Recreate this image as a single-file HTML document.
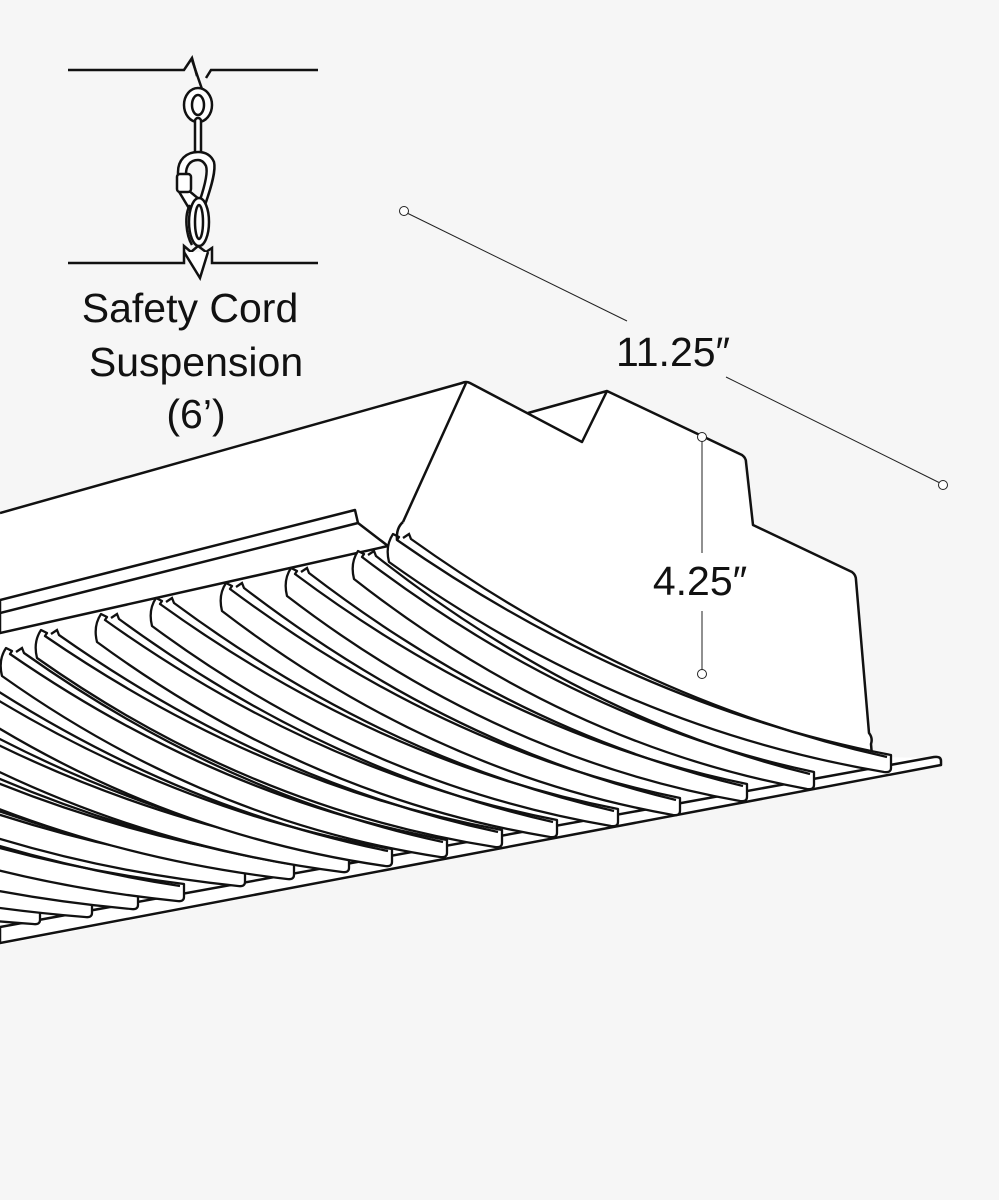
<!DOCTYPE html>
<html><head><meta charset="utf-8">
<style>
html,body{margin:0;padding:0;background:#f6f6f6;}
svg{display:block;}
text{font-family:"Liberation Sans",sans-serif;fill:#111;}
</style></head>
<body>
<svg id="s" width="999" height="1200" viewBox="0 0 999 1200" xmlns="http://www.w3.org/2000/svg">
<rect width="999" height="1200" fill="#f6f6f6"/>
<!-- chain detail -->
<g stroke="#111" stroke-width="2.5" fill="none">
<path d="M68 70 H184 L192 58 L197 76 M206 78 L211 70 H318"/>
<path d="M68 263 H184 L184 246 L191 252 L198 246 L206 252 L212 248 L212 263 H318"/>
<path d="M184 252 L200 278 L208 252" fill="#fff"/>
<path d="M192 60 L204 95" />
<ellipse cx="198" cy="105" rx="14" ry="17" fill="#fff"/>
<ellipse cx="198" cy="105" rx="6" ry="10"/>
<rect x="195" y="118" width="6" height="44" rx="3" fill="#fff"/>
<path d="M198 152 C186 152 178 160 178 172 L178 190 L190 210 L205 205 C212 185 216 170 214 162 C211 155 205 152 198 152 Z" fill="#fff"/>
<path d="M198 160 C190 160 186 166 186 174 L188 190 L200 200 C205 185 208 172 206 166 C204 162 201 160 198 160 Z" fill="#f6f6f6"/>
<rect x="177" y="174" width="14" height="18" rx="3" fill="#fff"/>
<ellipse cx="199" cy="222" rx="10" ry="24" fill="#fff"/>
<ellipse cx="199" cy="222" rx="4" ry="17"/>
<path d="M190 205 C184 215 186 235 192 245" />
</g>
<text x="190" y="322" font-size="41" text-anchor="middle">Safety Cord</text>
<text x="196" y="376" font-size="41" text-anchor="middle">Suspension</text>
<text x="196" y="428" font-size="41" text-anchor="middle">(6’)</text>

<!-- dimensions -->
<g stroke="#222" stroke-width="1" fill="#fff">
<line x1="407" y1="213" x2="627" y2="321"/>
<line x1="726" y1="377" x2="940" y2="483"/>
<circle cx="404" cy="211" r="4.5"/>
<circle cx="943" cy="485" r="4.5"/>
</g>
<text x="616" y="366" font-size="41">11.25″</text>

<!-- fixture body -->
<g id="body" stroke="#111" stroke-width="2.5" stroke-linejoin="round">
<polygon fill="#fff" stroke="none" points="0,513 466,382 528,413 607,390 742,457 753,525 855,573 870,733 872,757 940,758 940,766 0,945"/>
<path fill="none" d="M0 513 L462 383 Q466 381 470 383 L582 442 L607 391 L742 455 Q746 458 746 462 L753 525 L852 572 Q856 575 856 580 L869 733 Q873 738 871 744 L872 756"/>
<path fill="none" d="M528 413 L607 391"/>
<path fill="none" d="M466 383 L403 522"/>
<!-- lip -->
<path fill="#fff" d="M0 600 L355 510 L358 523 L388 546 L0 633 Z"/>
<path fill="none" d="M0 613 L358 523"/>
<!-- rail -->
<path fill="#fff" d="M0 927 L934 757 Q941 756 941 761 L941 765 L0 943 Z"/>
</g>
<g id="blades"></g>
<g stroke="#111" stroke-width="2.5" fill="none">
<path d="M403 522 Q396 528 397 540"/>
</g>
<g stroke="#222" stroke-width="1" fill="#fff">
<line x1="702" y1="441" x2="702" y2="553"/>
<line x1="702" y1="611" x2="702" y2="670"/>
<circle cx="702" cy="437" r="4.5"/>
<circle cx="702" cy="674" r="4.5"/>
</g>
<text x="700" y="595" font-size="41" text-anchor="middle">4.25″</text>
</svg>
<script>
(function(){
var g=document.getElementById("blades");
var starts=[[397,540],[362,557],[295,574],[230,589],[160,604],[105,620],[45,636],[10,654],[-50,670],[-110,686],[-170,702],[-230,718],[-290,734],[-350,750],[-410,766],[-470,782]];
var ends=[[891,773],[814,790],[747,802],[680,816],[618,827],[557,838],[502,848],[447,858],[392,867],[349,873],[294,880],[245,887],[184,902],[138,910],[92,918],[40,925]];
var html="";
for(var i=0;i<16;i++){
 var sx=starts[i][0],sy=starts[i][1],ex=ends[i][0],ey=ends[i][1];
 var dx=ex-sx,dy=ey-sy;
 var cx=sx+0.48*dx,cy=sy+0.71*dy;
 var d="M"+sx+" "+sy+" Q"+cx+" "+cy+" "+ex+" "+(ey-18)+
  " L"+ex+" "+(ey-5)+" Q"+ex+" "+ey+" "+(ex-7)+" "+(ey-1)+
  " Q"+(cx-14)+" "+(cy+22)+" "+(sx-8)+" "+(sy+22)+
  " Q"+(sx-12)+" "+(sy+6)+" "+(sx-4)+" "+(sy-6)+
  " L"+(sx+2)+" "+(sy-3)+" Z";
 var d2="M"+(sx+6)+" "+(sy-2)+" L"+(sx+12)+" "+(sy-6)+" L"+(sx+14)+" "+(sy-1)+
  " Q"+(cx+4)+" "+(cy-4)+" "+(ex-4)+" "+(ey-16);
 html='<path d="'+d+'" fill="#fff" stroke="#111" stroke-width="2.3" stroke-linejoin="round"/>'+
      '<path d="'+d2+'" fill="none" stroke="#111" stroke-width="2.3"/>'+html;
}
g.innerHTML=html;
})();
</script>
</body></html>
